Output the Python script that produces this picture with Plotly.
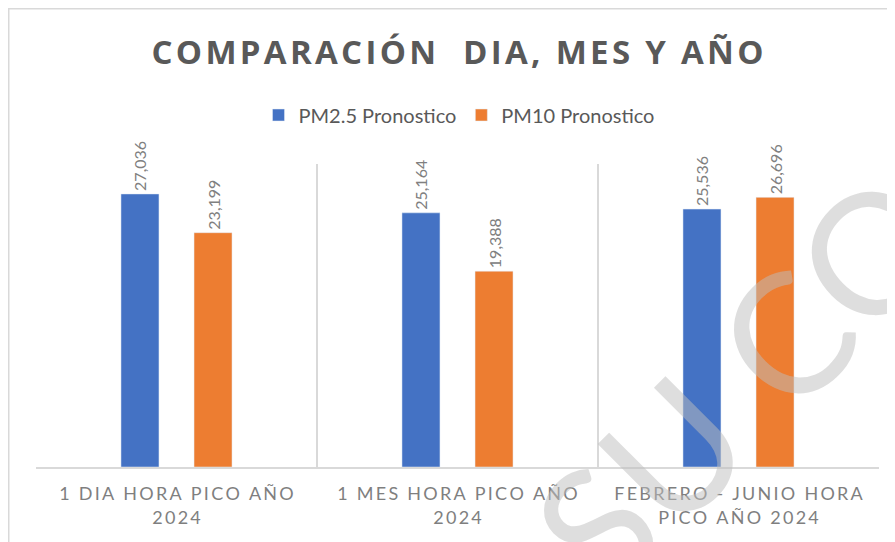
import plotly.graph_objects as go

CATEGORIES = ["1 DIA HORA PICO AÑO<br>2024", "1 MES HORA PICO AÑO<br>2024", "FEBRERO - JUNIO HORA<br>PICO AÑO 2024"]
PM25 = [27.036, 25.164, 25.536]
PM10 = [23.199, 19.388, 26.696]
SERIES_NAMES = ["PM2.5 Pronostico", "PM10 Pronostico"]
COLORS = ["#4472C4", "#ED7D31"]
TITLE = "COMPARACIÓN  DIA, MES Y AÑO"
WATERMARK = "SU CO"

FONT = "Lato"
THIN = "\u2009"
HAIR = "\u200a"

# the page is drawn with an 8px body margin, so pixel targets are shifted by 8
W, H = 895, 542
L, R, T, B = 28, 24, 156, 83
PW, PH = W - L - R, H - T - B


def px_x(x):
    return (x - L) / PW


def px_y(y):
    return (H - B - y) / PH


def spaced(s, sep=THIN):
    # mimic Excel's letter spacing
    return "<br>".join(sep.join(part) for part in s.split("<br>"))


def fmt(v):
    return f"{v:.3f}".replace(".", ",")


fig = go.Figure()
for name, vals, col in zip(SERIES_NAMES, [PM25, PM10], COLORS):
    fig.add_trace(go.Bar(
        x=CATEGORIES, y=vals, name=name, marker_color=col,
        text=[fmt(v) for v in vals], textposition="outside", textangle=-90,
        constraintext="none", cliponaxis=False,
        textfont=dict(family=FONT, size=16, color="#808080"),
    ))

fig.update_layout(
    width=W, height=H,
    paper_bgcolor="white", plot_bgcolor="white",
    margin=dict(l=L, r=R, t=T, b=B),
    barmode="group", bargap=0.48, bargroupgap=0.48,
    font=dict(family=FONT, color="#595959"),
    title=dict(text=f"<b>{spaced(TITLE, HAIR)}</b>", x=0.5, xref="paper", xanchor="center",
               y=1 - 44 / H, yanchor="middle",
               font=dict(family="Open Sans", size=33, color="#595959")),
    legend=dict(orientation="h", x=px_x(451), xanchor="center", y=px_y(107), yanchor="middle",
                font=dict(family=FONT, size=20, color="#595959")),
    showlegend=True,
)
fig.update_xaxes(
    tickvals=CATEGORIES, ticktext=[spaced(c) for c in CATEGORIES],
    tickson="boundaries", showgrid=True, gridcolor="#d9d9d9", gridwidth=1.5,
    showline=True, linecolor="#d9d9d9", linewidth=1.5, ticks="",
    ticklabelstandoff=10,
    tickfont=dict(family=FONT, size=18, color="#7f7f7f"),
)
fig.update_yaxes(range=[0, 30], visible=False, showgrid=False)

# outer chart frame
fig.add_shape(type="rect", xref="paper", yref="paper",
              x0=px_x(0.75), x1=1.2, y0=-0.4, y1=px_y(0.75),
              line=dict(color="#d9d9d9", width=1.5), fillcolor="rgba(0,0,0,0)")

# watermark
fig.add_annotation(text=WATERMARK, xref="paper", yref="paper",
                   x=px_x(732), y=px_y(372),
                   xanchor="center", yanchor="middle", textangle=-45, showarrow=False,
                   font=dict(family=FONT, size=168, color="rgba(190,190,190,0.5)"))

fig.write_html("out.html")
